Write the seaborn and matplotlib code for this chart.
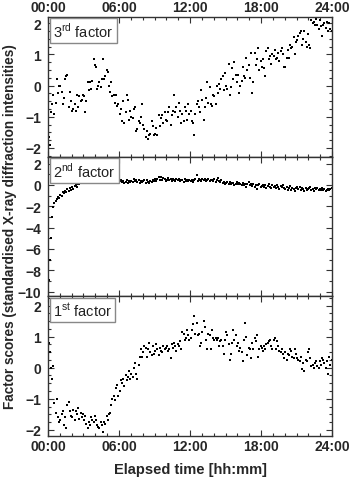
import numpy as np
import pandas as pd
import seaborn as sns
import matplotlib.pyplot as plt
from matplotlib.ticker import MultipleLocator

sns.set_theme(style="ticks")
plt.rcParams['font.family'] = ['Liberation Sans', 'DejaVu Sans']
plt.rcParams['mathtext.fontset'] = 'custom'
plt.rcParams['mathtext.rm'] = 'Liberation Sans'

# factor scores, one value every 6 minutes (10 per hour, 24 h)
factor3 = [
    -1.65, -1.9, -0.85, -0.6, -0.3, -0.9, -0.55, 0.2, -0.25, 0.0,
    0.0, -0.2, -0.6, -0.4, 0.2, 0.3, 0.35, -0.7, -0.2, -0.5,
    -0.8, -0.75, -0.6, -0.8, -0.3, -0.7, -0.35, -0.5, -0.45, -0.3,
    -0.35, -0.85, -0.5, 0.1, -0.15, 0.1, -0.1, 0.15, 0.85, 0.65,
    0.6, -0.1, 0.0, 0.1, -0.05, 0.2, 0.85, 0.2, 0.3, 0.5,
    0.45, 0.0, -0.2, 0.1, -0.35, -0.3, -0.55, -0.3, -0.65, -0.6,
    -0.9, -0.75, -1.15, -0.5, -1.2, -0.85, -0.3, -0.45, -1.1, -0.8,
    -1.0, -1.05, -0.75, -0.7, -1.45, -1.4, -1.15, -1.2, -1.0, -0.6,
    -1.25, -1.4, -1.65, -1.45, -1.7, -1.6, -1.55, -1.15, -1.3, -1.6,
    -1.55, -1.35, -1.6, -0.95, -1.3, -1.05, -0.95, -1.2, -0.85, -1.1,
    -1.15, -0.85, -0.7, -1.25, -0.95, -0.8, -0.3, -0.85, -0.7, -1.0,
    -0.55, -0.8, -1.2, -0.9, -1.15, -0.7, -0.8, -1.1, -0.6, -0.9,
    -0.8, -1.15, -1.2, -1.6, -0.9, -0.6, -0.5, -0.7, -0.85, -0.15,
    -0.45, -1.1, -0.7, -0.4, 0.1, -0.55, -0.05, -0.6, -0.65, -0.3,
    -0.35, -0.6, 0.0, -0.25, 0.05, -0.1, 0.2, 0.3, -0.15, 0.4,
    0.0, -0.1, 0.7, -0.3, -0.05, 0.55, 0.2, 0.75, 0.35, 0.1,
    0.35, -0.25, 0.0, 0.15, 0.6, 0.3, 0.25, 0.9, 0.5, 0.65,
    0.25, 1.05, -0.25, 0.1, 1.05, 0.65, 0.85, 1.2, 0.5, 0.8,
    0.6, 0.85, 0.55, 0.3, 1.1, 1.2, 0.85, 0.95, 0.7, 1.0,
    0.95, 1.15, 0.85, 0.9, 1.05, 0.8, 1.1, 1.2, 1.0, 0.6,
    0.6, 0.9, 1.15, 0.9, 1.3, 1.2, 1.25, 1.55, 1.0, 1.4,
    1.45, 1.6, 1.7, 1.75, 1.3, 1.5, 1.75, 1.4, 1.25, 1.65,
    1.3, 1.2, 2.1, 2.0, 2.05, 1.95, 2.15, 1.95, 1.8, 2.1,
    1.9, 1.6, 1.95, 2.0, 1.85, 2.05, 1.75, 2.0, 1.8, 1.75,
]

factor2 = [
    -8.9, -7.0, -5.0, -3.0, -2.1, -1.7, -1.5, -1.3, -1.1, -1.2,
    -0.9, -1.0, -0.7, -0.8, -0.55, -0.7, -0.4, -0.6, -0.3, -0.45,
    -0.2, -0.35, -0.1, 0.0, -0.15, 0.1, 0.05, 0.2, 0.15, 0.3,
    0.25, 0.4, 0.3, 0.45, 0.35, 0.5, 0.4, 0.55, 0.45, 0.5,
    0.6, 0.45, 0.55, 0.7, 0.5, 0.6, 0.65, 0.5, 0.55, 0.4,
    0.5, 0.45, 0.3, 0.5, 0.35, 0.55, 0.4, 0.3, 0.45, 0.2,
    0.35, 0.5, 0.3, 0.4, 0.15, 0.3, 0.45, 0.2, 0.35, 0.25,
    0.4, 0.3, 0.55, 0.35, 0.5, 0.3, 0.45, 0.2, 0.4, 0.3,
    0.35, 0.5, 0.2, 0.45, 0.3, 0.15, 0.35, 0.3, 0.5, 0.4,
    0.55, 0.4, 0.6, 0.7, 0.5, 0.75, 0.45, 0.65, 0.55, 0.4,
    0.5, 0.65, 0.45, 0.55, 0.35, 0.6, 0.5, 0.4, 0.55, 0.45,
    0.6, 0.35, 0.5, 0.45, 0.3, 0.55, 0.4, 0.5, 0.35, 0.45,
    0.35, 0.5, 0.3, 0.45, 0.55, 0.95, 0.4, 0.6, 0.5, 0.35,
    0.55, 0.45, 0.6, 0.4, 0.5, 0.55, 0.35, 0.45, 0.5, 0.4,
    0.55, 0.3, 0.5, 0.65, 0.4, 0.25, 0.45, 0.15, 0.3, 0.05,
    0.2, 0.3, 0.1, 0.25, 0.05, 0.15, 0.2, 0.0, 0.1, 0.3,
    0.05, 0.15, 0.1, -0.05, 0.2, 0.0, 0.1, -0.15, 0.05, 0.25,
    0.0, 0.1, -0.1, 0.05, -0.2, 0.0, -0.4, -0.05, 0.1, -0.15,
    -0.1, 0.0, -0.2, -0.05, -0.25, -0.1, 0.05, -0.15, -0.3, -0.05,
    -0.2, -0.1, -0.3, 0.0, -0.15, -0.35, -0.1, -0.2, -0.05, -0.25,
    -0.4, -0.2, -0.5, -0.3, -0.1, -0.45, -0.25, -0.35, -0.6, -0.3,
    -0.15, -0.4, -0.2, -0.5, -0.3, -0.35, -0.55, -0.25, -0.45, -0.4,
    -0.3, -0.2, -0.45, -0.35, -0.55, -0.25, -0.4, -0.3, -0.5, -0.35,
    -0.45, -0.3, -0.5, -0.4, -0.55, -0.45, -0.35, -0.5, -0.4, -0.3,
]

factor1 = [
    0.8, 0.5, 0.0, -0.35, 0.05, -1.15, -1.45, -1.0, -1.6, -1.75,
    -1.7, -1.5, -1.4, -1.85, -1.6, -1.95, -1.2, -1.1, -1.4, -1.55,
    -1.6, -1.35, -1.7, -1.4, -1.5, -1.3, -1.65, -1.45, -1.6, -1.5,
    -1.7, -1.55, -1.8, -1.95, -1.75, -1.85, -1.6, -1.7, -1.75, -1.55,
    -1.7, -1.85, -1.9, -1.95, -1.75, -1.85, -2.06, -1.75, -1.8, -1.55,
    -1.7, -1.5, -1.45, -1.2, -1.0, -0.9, -1.05, -0.65, -0.55, -0.9,
    -0.75, -0.4, -0.5, -0.35, -0.6, -0.25, -0.4, -0.3, -0.1, -0.35,
    -0.2, -0.3, 0.0, 0.15, -0.2, -0.35, 0.1, 0.35, 0.6, 0.35,
    0.5, 0.7, 0.65, 0.35, 0.6, 0.8, 0.5, 0.4, 0.7, 0.45,
    0.55, 0.75, 0.6, 0.4, 0.65, 0.55, 0.5, 0.7, 0.6, 0.65,
    0.7, 0.55, 0.6, 0.3, 0.75, 0.65, 0.8, 0.7, 0.55, 0.75,
    0.7, 0.85, 0.6, 1.15, 1.1, 0.9, 0.95, 1.2, 1.05, 0.9,
    0.95, 1.2, 1.4, 1.65, 1.1, 1.45, 1.05, 1.1, 0.7, 0.8,
    1.15, 1.5, 1.3, 0.9, 0.6, 1.1, 1.05, 0.6, 1.2, 0.95,
    0.9, 0.95, 0.9, 0.95, 0.7, 0.85, 0.9, 0.7, 0.45, 0.9,
    1.15, 1.05, 0.75, 0.25, 0.45, 0.8, 1.2, 0.9, 1.05, 0.7,
    0.8, 0.55, 0.65, 0.5, 0.2, 0.9, 1.45, 1.0, 0.4, 0.65,
    0.6, 0.3, 0.8, 0.6, 0.95, 0.85, 1.05, 0.35, 0.6, 0.7,
    0.65, 0.55, 0.7, 0.6, 0.75, 0.8, 0.85, 0.9, 0.7, 0.6,
    0.9, 0.95, 0.6, 0.85, 0.7, 0.55, 0.5, 0.6, 0.45, 0.3,
    0.5, 0.25, 0.45, 0.4, 0.6, 0.55, 0.35, 0.3, 0.6, 0.45,
    0.3, 0.25, 0.2, 0.35, -0.05, 0.15, -0.1, 0.25, 0.2, 0.5,
    0.6, 0.3, 0.05, 0.1, 0.0, 0.15, 0.2, 0.05, 0.0, 0.2,
    0.1, 0.3, 0.25, 0.15, 0.0, 0.2, -0.2, 0.35, 0.1, 0.25,
]

# sampling grid in hours
hours = (np.arange(len(factor1)) + 0.5) * 0.1

xtick_pos = [0, 6, 12, 18, 24]
xtick_labels = ["00:00", "06:00", "12:00", "18:00", "24:00"]

panels = [
    ("3", "rd", factor3, (-2.28, 2.2), [-2, -1, 0, 1, 2], 0.25),
    ("2", "nd", factor2, (-10.45, 2.65), [-10, -8, -6, -4, -2, 0, 2], 1),
    ("1", "st", factor1, (-2.2, 2.3), [-2, -1, 0, 1, 2], 0.25),
]

fig, axes = plt.subplots(3, 1, figsize=(3.5, 4.81), dpi=100, sharex=True)
fig.subplots_adjust(left=0.137, right=0.949, top=0.9626, bottom=0.0915, hspace=0)

for i, (num, sup, vals, ylim, yticks, yminor) in enumerate(panels):
    ax = axes[i]
    df = pd.DataFrame({"t": hours, "score": vals})
    sns.scatterplot(data=df, x="t", y="score", ax=ax, color="black",
                    marker="s", s=3.5, linewidth=0)
    ax.set_xlim(0, 24)
    ax.set_ylim(*ylim)
    ax.set_yticks(yticks)
    ax.yaxis.set_minor_locator(MultipleLocator(yminor))
    ax.set_xticks(xtick_pos)
    ax.set_xticklabels(xtick_labels)
    ax.xaxis.set_minor_locator(MultipleLocator(1))
    ax.set_xlabel("")
    ax.set_ylabel("")
    for sp in ax.spines.values():
        sp.set_visible(True)
        sp.set_color("#333333")
        sp.set_linewidth(1.0)
    ax.tick_params(which="both", direction="in", top=True, right=True,
                   color="#333333", width=0.8)
    ax.tick_params(which="major", length=4)
    ax.tick_params(which="minor", length=2)
    ax.tick_params(axis="y", pad=5, labelsize=10)
    ax.tick_params(axis="x", pad=2.5, labelsize=10,
                   labelbottom=(i == 2), labeltop=(i == 0))
    for lab in ax.get_xticklabels() + ax.get_yticklabels():
        lab.set_fontweight("bold")
    ax.text(0.018, 0.968, num + r"$^{\rm " + sup + r"}$ factor",
            transform=ax.transAxes, ha="left", va="top", fontsize=10.5,
            color="#222222",
            bbox=dict(boxstyle="square,pad=0.22", facecolor="white",
                      edgecolor="#888888", linewidth=1.0))

fig.text(0.029, 0.528, "Factor scores (standardised X-ray diffraction intensities)",
         rotation=90, ha="center", va="center", fontsize=9.8, fontweight="bold")
fig.text(0.543, 0.023, "Elapsed time [hh:mm]", ha="center", va="center",
         fontsize=10.5, fontweight="bold")

fig.savefig("out.png", dpi=100)
